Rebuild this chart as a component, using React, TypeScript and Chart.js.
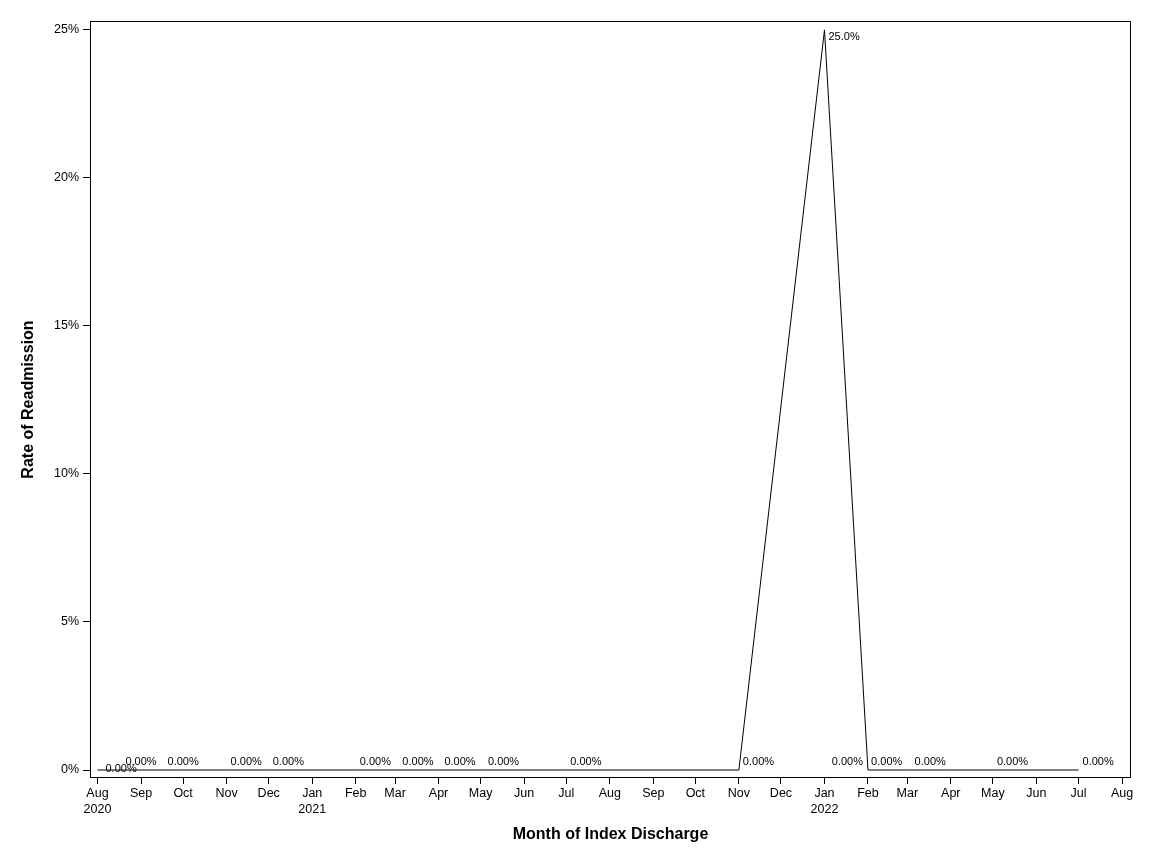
import { Chart, registerables } from "chart.js";
import { useEffect, useRef } from "react";

Chart.register(...registerables);

// month of index discharge and readmission rate (%)
const months = [
  "2020-08", "2020-09", "2020-10", "2020-11", "2020-12",
  "2021-02", "2021-04", "2021-05", "2021-06", "2021-07",
  "2021-11", "2022-01", "2022-02", "2022-03", "2022-04",
  "2022-05", "2022-07",
];
const rates = [0, 0, 0, 0, 0, 0, 0, 0, 0, 0, 0, 25, 0, 0, 0, 0, 0];

// where each data label sits next to its point
const labelPos = [
  "rightMid", "top", "top", "right", "right",
  "right", "left", "left", "left", "right",
  "right", "rightBelow", "left", "left", "left",
  "right", "right",
];

const xTicks = [
  "2020-08", "2020-09", "2020-10", "2020-11", "2020-12",
  "2021-01", "2021-02", "2021-03", "2021-04", "2021-05", "2021-06",
  "2021-07", "2021-08", "2021-09", "2021-10", "2021-11", "2021-12",
  "2022-01", "2022-02", "2022-03", "2022-04", "2022-05", "2022-06",
  "2022-07", "2022-08",
];
const yTicks = [0, 5, 10, 15, 20, 25];

const monthNames = ["Jan", "Feb", "Mar", "Apr", "May", "Jun", "Jul", "Aug", "Sep", "Oct", "Nov", "Dec"];

const FONT = "'Liberation Sans', Arial, sans-serif";

function dayNum(ym: string) {
  const [y, m] = ym.split("-").map(Number);
  return Date.UTC(y, m - 1, 1) / 86400000;
}

function fmtRate(v: number) {
  return v.toPrecision(3) + "%";
}

const frame = {
  id: "frame",
  afterDraw(chart: Chart) {
    const { ctx, chartArea: a } = chart;
    ctx.save();
    ctx.strokeStyle = "#000";
    ctx.lineWidth = 1;
    ctx.strokeRect(a.left + 0.5, a.top + 0.5, a.right - a.left - 1, a.bottom - a.top - 1);
    ctx.restore();
  },
};

const pointLabels = {
  id: "pointLabels",
  afterDatasetsDraw(chart: Chart) {
    const { ctx } = chart;
    const meta = chart.getDatasetMeta(0);
    ctx.save();
    ctx.font = `11px ${FONT}`;
    ctx.fillStyle = "#000";
    ctx.textBaseline = "middle";
    meta.data.forEach((pt, i) => {
      const text = fmtRate(rates[i]);
      const pos = labelPos[i];
      let x = pt.x;
      let y = pt.y;
      if (pos === "right") { ctx.textAlign = "left"; x += 4; y -= 8; }
      else if (pos === "left") { ctx.textAlign = "right"; x -= 5; y -= 8; }
      else if (pos === "top") { ctx.textAlign = "center"; y -= 8; }
      else if (pos === "rightMid") { ctx.textAlign = "left"; x += 8; y -= 1; }
      else { ctx.textAlign = "left"; x += 4; y += 7; }
      ctx.fillText(text, x, y);
    });
    ctx.restore();
  },
};

export default function App() {
  const canvasRef = useRef<HTMLCanvasElement>(null);
  const chartRef = useRef<Chart | null>(null);

  useEffect(() => {
    document.body.style.margin = "0";
    if (!canvasRef.current) return;
    if (chartRef.current) chartRef.current.destroy();

    chartRef.current = new Chart(canvasRef.current, {
      type: "line",
      data: {
        datasets: [
          {
            label: "Rate of Readmission",
            data: months.map((m, i) => ({ x: dayNum(m), y: rates[i] })),
            borderColor: "#000",
            borderWidth: 1,
            pointRadius: 0,
            tension: 0,
          },
        ],
      },
      options: {
        responsive: false,
        animation: false,
        layout: { padding: { left: 0, top: 21, right: 21, bottom: 0 } },
        plugins: {
          legend: { display: false },
          tooltip: { enabled: false },
        },
        scales: {
          x: {
            type: "linear",
            min: dayNum("2020-08") - 5.34,
            max: dayNum("2022-08") + 6.4,
            afterBuildTicks: (scale: any) => {
              scale.ticks = xTicks.map((m) => ({ value: dayNum(m) }));
            },
            afterFit: (scale: any) => {
              scale.height = 86;
            },
            border: { display: false },
            grid: {
              drawOnChartArea: false,
              drawTicks: true,
              tickLength: 6,
              color: "#000",
            },
            ticks: {
              autoSkip: false,
              maxRotation: 0,
              padding: 1,
              color: "#000",
              font: { family: FONT, size: 12.5, lineHeight: 1.3 },
              callback: (_v: any, i: number) => {
                const [y, m] = xTicks[i].split("-");
                const name = monthNames[Number(m) - 1];
                return i === 0 || m === "01" ? [name, y] : name;
              },
            },
            title: {
              display: true,
              text: "Month of Index Discharge",
              color: "#000",
              font: { family: FONT, size: 16, weight: "bold" },
              padding: { bottom: 20 },
            },
          },
          y: {
            min: -0.27,
            max: 25.3,
            afterBuildTicks: (scale: any) => {
              scale.ticks = yTicks.map((v) => ({ value: v }));
            },
            afterFit: (scale: any) => {
              scale.width = 90;
            },
            border: { display: false },
            grid: {
              drawOnChartArea: false,
              drawTicks: true,
              tickLength: 7,
              color: "#000",
            },
            ticks: {
              padding: 4,
              color: "#000",
              font: { family: FONT, size: 12.5 },
              callback: (v: any) => v + "%",
            },
            title: {
              display: true,
              text: "Rate of Readmission",
              color: "#000",
              font: { family: FONT, size: 16, weight: "bold" },
              padding: { top: 19 },
            },
          },
        },
      },
      plugins: [frame, pointLabels],
    });

    return () => {
      if (chartRef.current) {
        chartRef.current.destroy();
        chartRef.current = null;
      }
    };
  }, []);

  return <canvas ref={canvasRef} width={1152} height={864}></canvas>;
}
